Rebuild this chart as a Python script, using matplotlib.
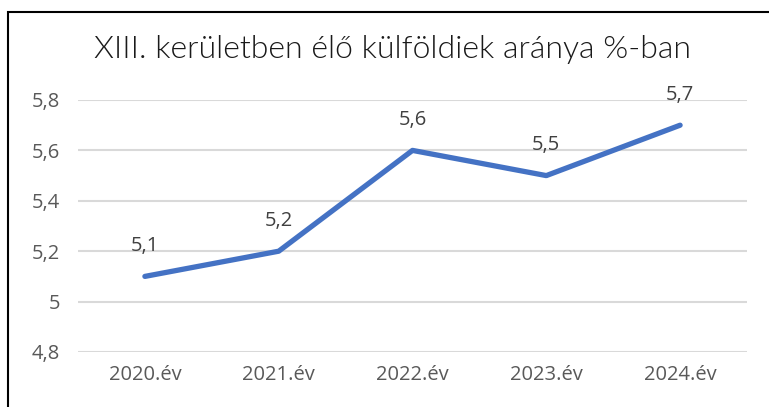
import matplotlib
matplotlib.use('Agg')
import matplotlib.pyplot as plt
from matplotlib.patches import Rectangle

title = 'XIII. kerületben élő külföldiek aránya %-ban'
years = ['2020.év', '2021.év', '2022.év', '2023.év', '2024.év']
share = [5.1, 5.2, 5.6, 5.5, 5.7]
yticks = [4.8, 5.0, 5.2, 5.4, 5.6, 5.8]

W, H = 769, 407
fig = plt.figure(figsize=(W / 100, H / 100), dpi=100)
ax = fig.add_axes([78 / W, 55 / H, (747 - 78) / W, (352 - 100) / H])

x = range(len(years))
ax.plot(x, share, color='#4472C4', lw=3.8, solid_capstyle='round', zorder=3)
for xi, v in zip(x, share):
    ax.annotate(f'{v:g}'.replace('.', ','), (xi, v), xytext=(0, 22),
                textcoords='offset points', ha='center', va='center',
                fontsize=14.5, color='#404040', family='Open Sans')

ax.set_xlim(-0.5, len(years) - 0.5)
ax.set_ylim(4.8, 5.8)
ax.set_xticks(list(x))
ax.set_xticklabels(years)
ax.set_yticks(yticks)
ax.set_yticklabels([f'{t:g}'.replace('.', ',') for t in yticks])
ax.tick_params(length=0, labelsize=14.5, colors='#595959', pad=9)
ax.tick_params(axis='y', pad=13)
for lab in ax.get_xticklabels() + ax.get_yticklabels():
    lab.set_family('Open Sans')
ax.grid(axis='y', color='#d9d9d9', lw=1.5)
ax.set_axisbelow(True)
for s in ax.spines.values():
    s.set_visible(False)

fig.text(392 / W, 1 - 49 / H, title, ha='center', va='center',
         fontsize=23, color='#1a1a1a', family='Lato', fontweight=300)

# chart frame (right and bottom edges fall outside the image)
fig.patches.append(Rectangle((8 / W, -0.1), 1.2, 1.1 - 12 / H,
                             transform=fig.transFigure, fill=False,
                             ec='black', lw=1.5))

plt.savefig('out.png', dpi=100)
